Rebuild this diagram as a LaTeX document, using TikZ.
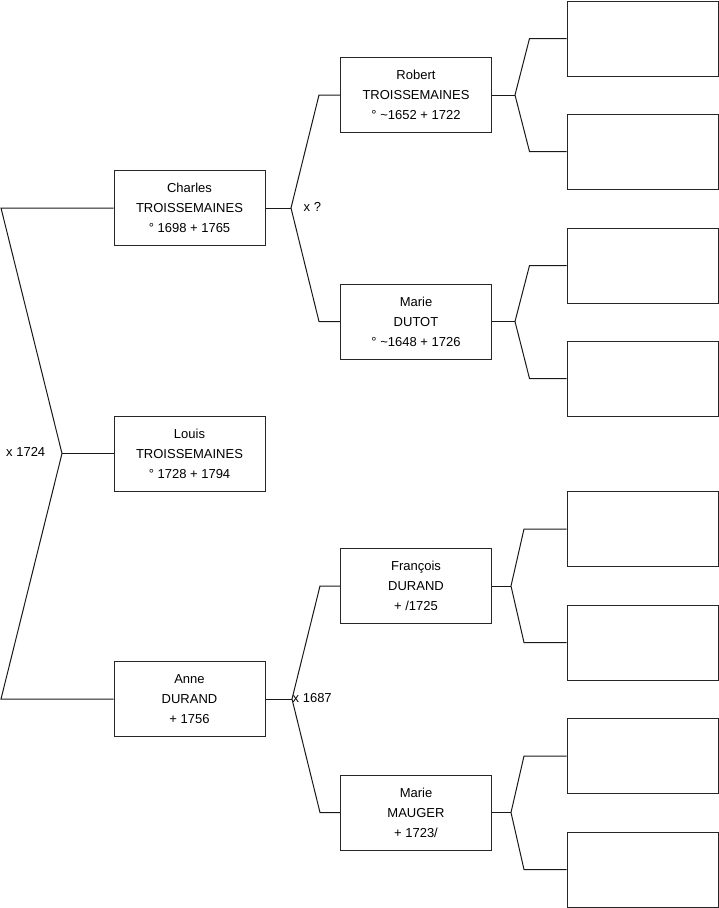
\documentclass[tikz,border=0pt]{standalone}
\usepackage{fontspec}
\setmainfont{Liberation Sans}
\begin{document}
\begin{tikzpicture}[x=1pt,y=-1pt,
  person/.style={draw=black!85, line width=1pt, minimum width=151pt, minimum height=75pt, inner sep=0pt, align=center, font=\fontsize{13}{20}\selectfont},
  empty/.style={draw=black!85, line width=1pt, minimum width=151pt, minimum height=75pt, inner sep=0pt},
  link/.style={draw=black!90, line width=1pt},
  lbl/.style={inner sep=0pt, anchor=west, font=\fontsize{13}{16}\selectfont}]
\useasboundingbox (0,0) rectangle (719,908);
% generation 1
\node[person] (ch) at (189.5,208) {Charles\\TROISSEMAINES\\° 1698 + 1765};
\node[person] (lo) at (189.5,453.5) {Louis\\TROISSEMAINES\\° 1728 + 1794};
\node[person] (an) at (189.5,699) {Anne\\DURAND\\+ 1756};
% generation 2
\node[person] (ro) at (416,95) {Robert\\TROISSEMAINES\\° \textasciitilde1652 + 1722};
\node[person] (md) at (416,321.5) {Marie\\DUTOT\\° \textasciitilde1648 + 1726};
\node[person] (fr) at (416,586) {François\\DURAND\\+ /1725};
\node[person] (mm) at (416,812.5) {Marie\\MAUGER\\+ 1723/};
% generation 3
\node[empty] (g1) at (642.5,38.5) {};
\node[empty] (g2) at (642.5,151.5) {};
\node[empty] (g3) at (642.5,265.5) {};
\node[empty] (g4) at (642.5,378.5) {};
\node[empty] (g5) at (642.5,529) {};
\node[empty] (g6) at (642.5,642.5) {};
\node[empty] (g7) at (642.5,756) {};
\node[empty] (g8) at (642.5,869.5) {};
% labels
\node[lbl] (l1) at (6,452) {x 1724};
\node[lbl] (l2) at (303.5,207) {x ?};
\node[lbl] (l3) at (292.5,698) {x 1687};
% fork gen1
\coordinate (a1) at (1,208);
\coordinate (a2) at (1,699);
\coordinate (av) at (62,453.5);
\draw[link] (ch.west) -- (a1) -- (av) -- (a2) -- (an.west);
\draw[link] (av) -- (lo.west);
% fork Charles
\coordinate (cv) at (291,208);
\coordinate (c1) at (319,95);
\coordinate (c2) at (319,321.5);
\draw[link] (ch.east) -- (cv);
\draw[link] (ro.west) -- (c1) -- (cv) -- (c2) -- (md.west);
% fork Anne
\coordinate (nv) at (292,699);
\coordinate (n1) at (320,586);
\coordinate (n2) at (320,812.5);
\draw[link] (an.east) -- (nv);
\draw[link] (fr.west) -- (n1) -- (nv) -- (n2) -- (mm.west);
% forks gen2
\coordinate (rv) at (515,95);
\coordinate (r1) at (529.5,38.5);
\coordinate (r2) at (529.5,151.5);
\draw[link] (ro.east) -- (rv);
\draw[link] (g1.west) -- (r1) -- (rv) -- (r2) -- (g2.west);
\coordinate (dv) at (515,321.5);
\coordinate (d1) at (529.5,265.5);
\coordinate (d2) at (529.5,378.5);
\draw[link] (md.east) -- (dv);
\draw[link] (g3.west) -- (d1) -- (dv) -- (d2) -- (g4.west);
\coordinate (fv) at (511,586);
\coordinate (f1) at (524,529);
\coordinate (f2) at (524,642.5);
\draw[link] (fr.east) -- (fv);
\draw[link] (g5.west) -- (f1) -- (fv) -- (f2) -- (g6.west);
\coordinate (mv) at (511,812.5);
\coordinate (m1) at (524,756);
\coordinate (m2) at (524,869.5);
\draw[link] (mm.east) -- (mv);
\draw[link] (g7.west) -- (m1) -- (mv) -- (m2) -- (g8.west);
\end{tikzpicture}
\end{document}
